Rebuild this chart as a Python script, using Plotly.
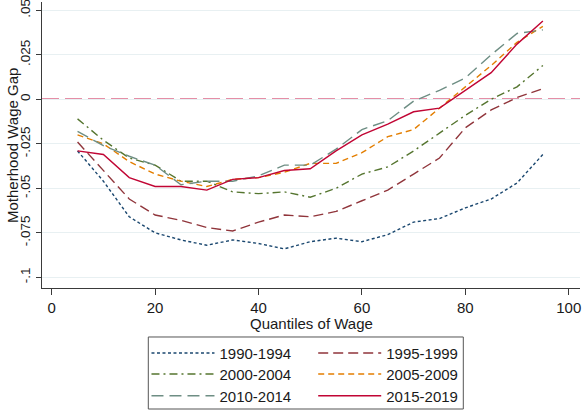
import plotly.graph_objects as go

# ---- data ----
quantiles = [5, 10, 15, 20, 25, 30, 35, 40, 45, 50, 55, 60, 65, 70, 75, 80, 85, 90, 95]

gap_1990_1994 = [-0.029, -0.046, -0.066, -0.075, -0.079, -0.082, -0.079, -0.081, -0.084, -0.080,
                 -0.078, -0.080, -0.076, -0.069, -0.067, -0.061, -0.056, -0.047, -0.031]
gap_1995_1999 = [-0.024, -0.040, -0.056, -0.065, -0.068, -0.072, -0.074, -0.069, -0.065, -0.066,
                 -0.063, -0.057, -0.051, -0.042, -0.033, -0.016, -0.006, 0.001, 0.006]
gap_2000_2004 = [-0.011, -0.023, -0.033, -0.037, -0.046, -0.046, -0.052, -0.053, -0.052, -0.055,
                 -0.050, -0.042, -0.038, -0.029, -0.019, -0.009, 0.000, 0.007, 0.019]
gap_2005_2009 = [-0.020, -0.025, -0.035, -0.042, -0.046, -0.049, -0.045, -0.044, -0.041, -0.036,
                 -0.036, -0.030, -0.021, -0.017, -0.005, 0.007, 0.019, 0.032, 0.041]
gap_2010_2014 = [-0.018, -0.026, -0.032, -0.037, -0.048, -0.046, -0.046, -0.043, -0.037, -0.037,
                 -0.028, -0.017, -0.012, -0.001, 0.005, 0.012, 0.025, 0.037, 0.039]
gap_2015_2019 = [-0.029, -0.031, -0.044, -0.049, -0.049, -0.051, -0.045, -0.044, -0.040, -0.039,
                 -0.029, -0.020, -0.014, -0.007, -0.005, 0.005, 0.015, 0.031, 0.044]

series_names = ["1990-1994", "1995-1999", "2000-2004", "2005-2009", "2010-2014", "2015-2019"]
series_values = [gap_1990_1994, gap_1995_1999, gap_2000_2004, gap_2005_2009, gap_2010_2014, gap_2015_2019]

y_tick_values = [-0.1, -0.075, -0.05, -0.025, 0, 0.025, 0.05]
y_tick_labels = ["-.1", "-.075", "-.05", "-.025", "0", ".025", ".05"]
x_tick_values = [0, 20, 40, 60, 80, 100]

x_title = "Quantiles of Wage"
y_title = "Motherhood Wage Gap"

# ---- styles ----
colors = ["#1a476f", "#90353b", "#55752f", "#e37e00", "#6e8e84", "#c10534"]
dashes = ["3px,2.5px", "10px,5px", "8px,4px,2px,4px", "6px,4px", "12px,6px", "solid"]

FONT = "Liberation Sans, Arial, sans-serif"
AX = "#3a3a3a"
TXT = "#1a1a1a"

# legend slots (paper coords): two columns x three rows
legend_ids = ["legend", "legend2", "legend3", "legend4", "legend5", "legend6"]
legend_x = [0.1942, 0.5041, 0.1942, 0.5041, 0.1942, 0.5041]
legend_y = [-0.2283, -0.2283, -0.3017, -0.3017, -0.3776, -0.3776]

fig = go.Figure()
for name, vals, col, dash, lg in zip(series_names, series_values, colors, dashes, legend_ids):
    fig.add_trace(go.Scatter(
        x=quantiles, y=vals, mode="lines", name=name,
        line=dict(color=col, width=1.4, dash=dash),
        legend=lg,
    ))

# reference line at zero
fig.add_shape(type="line", xref="paper", yref="y", x0=0, x1=1, y0=0, y1=0,
              line=dict(color="#cc1f4e", width=1.4, dash="17px,6px"), layer="between")

# legend frame
fig.add_shape(type="rect", xref="paper", yref="paper",
              x0=0.1976, x1=0.7831, y0=-0.4231, y1=-0.1713,
              line=dict(color="#555555", width=1), fillcolor="rgba(0,0,0,0)")

# axis titles
fig.add_annotation(text=x_title, xref="paper", yref="paper", x=0.5, y=-0.1224,
                   xanchor="center", yanchor="middle", showarrow=False,
                   font=dict(family=FONT, size=15, color=TXT))
fig.add_annotation(text=y_title, xref="paper", yref="paper", x=-0.0558, y=0.5,
                   xanchor="center", yanchor="middle", showarrow=False, textangle=-90,
                   font=dict(family=FONT, size=15, color=TXT))

legend_layout = {}
for lg, lx, ly in zip(legend_ids, legend_x, legend_y):
    legend_layout[lg] = dict(
        x=lx, y=ly, xanchor="left", yanchor="middle", orientation="v",
        font=dict(family=FONT, size=15, color=TXT),
        bgcolor="rgba(0,0,0,0)", borderwidth=0, itemwidth=63,
    )

fig.update_layout(
    width=582, height=410,
    margin=dict(l=42, r=2, t=2, b=122, pad=0, autoexpand=False),
    paper_bgcolor="white", plot_bgcolor="white",
    font=dict(family=FONT, color=TXT),
    showlegend=True,
    **legend_layout,
    xaxis=dict(
        range=[-1.876, 102.18], tickvals=x_tick_values,
        showgrid=False, zeroline=False, automargin=False, ticklabeloverflow="allow",
        showline=True, linecolor=AX, linewidth=1,
        ticks="outside", ticklen=5.5, tickcolor=AX, tickwidth=1,
        tickfont=dict(family=FONT, size=15, color=TXT),
    ),
    yaxis=dict(
        range=[-0.106, 0.05466], tickvals=y_tick_values, ticktext=y_tick_labels,
        tickangle=-90, automargin=False, ticklabeloverflow="allow",
        showgrid=True, gridcolor="#e8f0f2", gridwidth=1, zeroline=False,
        showline=True, linecolor=AX, linewidth=1,
        ticks="outside", ticklen=5.5, tickcolor=AX, tickwidth=1,
        tickfont=dict(family=FONT, size=13.5, color=TXT),
    ),
)

fig.write_html("out.html", config={"displayModeBar": False},
               post_script="document.body.style.margin='0px';")
